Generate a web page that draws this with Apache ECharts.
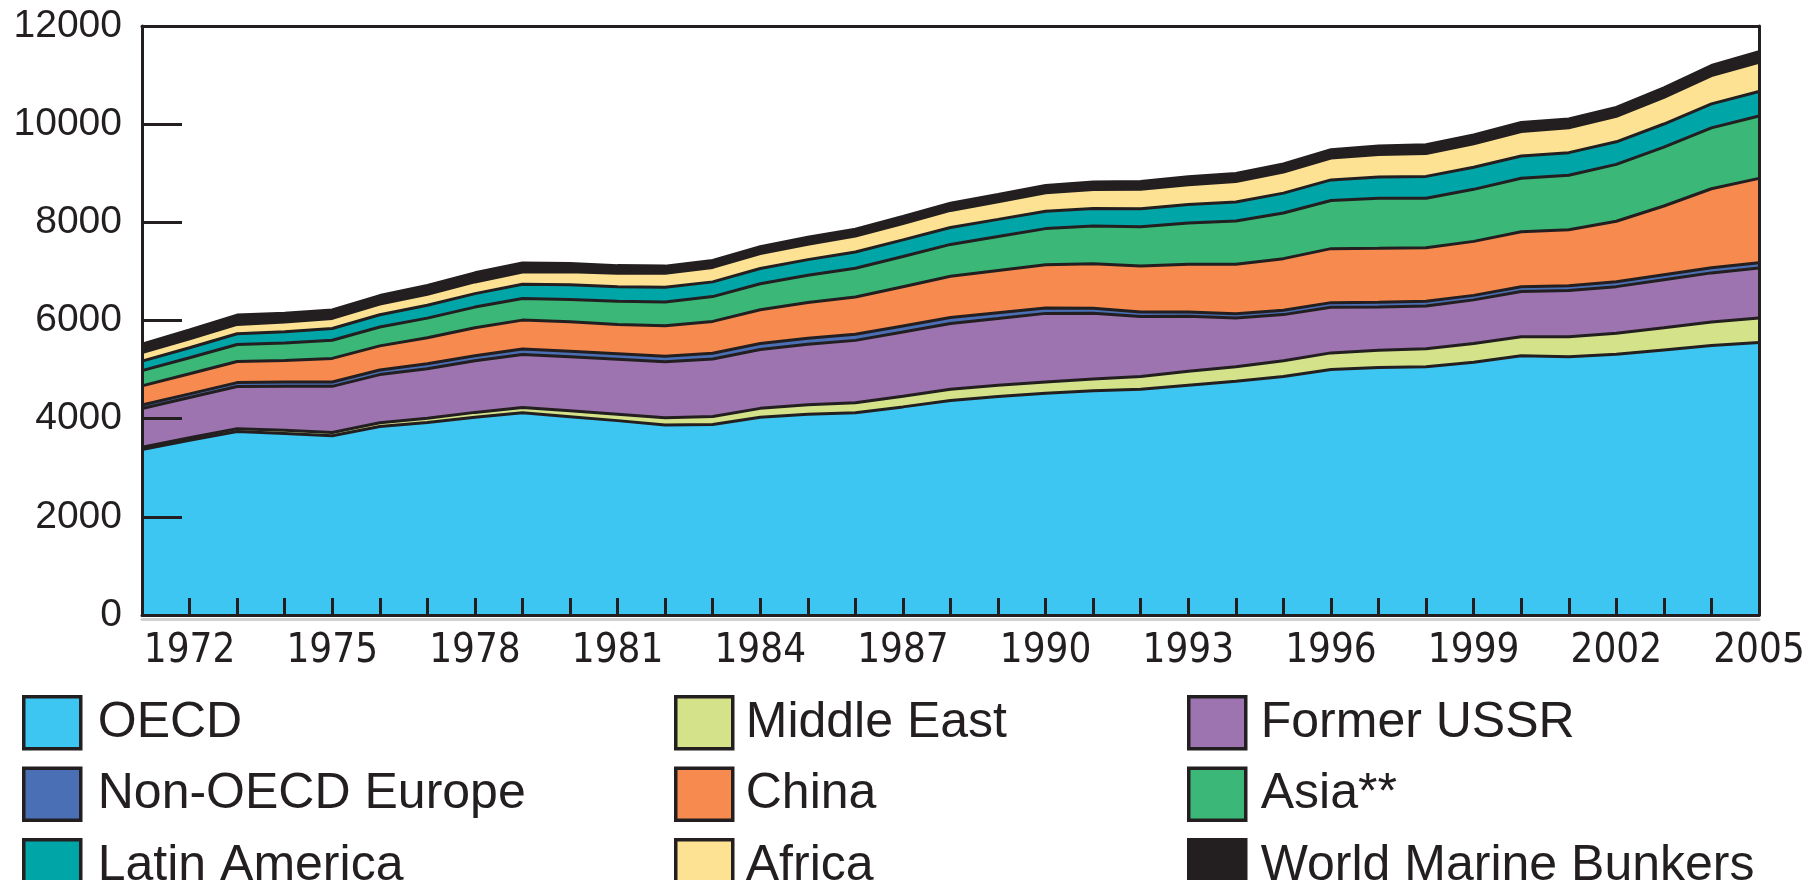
<!DOCTYPE html>
<html>
<head>
	<meta charset="utf-8">
	<title>TPES by region</title>
	<style type="text/css">
		*{ padding: 0; margin: 0; }
		body{ background: #fff; }
		#chart{ width: 1811px; height: 880px; }
	</style>
</head>
<body>
	<div id="chart"></div>

<script type="text/javascript" src="https://cdn.jsdelivr.net/npm/echarts@6/dist/echarts.min.js"></script>
<script type="text/javascript">
	// Mtoe, 1971 - 2005
	var years = ['1971','1972','1973','1974','1975','1976','1977','1978','1979','1980',
		'1981','1982','1983','1984','1985','1986','1987','1988','1989','1990',
		'1991','1992','1993','1994','1995','1996','1997','1998','1999','2000',
		'2001','2002','2003','2004','2005'];
	var yTicks = [0, 2000, 4000, 6000, 8000, 10000, 12000];

	var oecd = [3373,3560,3740,3700,3650,3840,3920,4030,4120,4040,
		3960,3870,3880,4030,4090,4120,4240,4370,4450,4520,
		4570,4600,4680,4760,4860,5000,5040,5060,5150,5280,
		5260,5310,5400,5490,5550];
	var middleEast = [45,50,55,62,68,78,88,98,108,120,
		132,148,165,180,195,205,215,228,230,225,
		240,260,285,300,320,340,355,365,380,390,
		410,430,450,480,500];
	var formerUSSR = [790,820,860,900,940,980,1010,1050,1080,1100,
		1120,1140,1170,1200,1230,1270,1310,1340,1360,1400,
		1340,1220,1120,990,940,930,880,870,890,920,
		940,950,980,1000,1020];
	var nonOecdEurope = [70,75,80,85,90,95,100,105,110,113,
		113,115,117,120,122,124,124,122,120,112,
		98,92,88,86,90,94,96,96,92,98,
		100,101,103,104,105];
	var china = [390,410,430,440,480,490,530,570,590,600,
		595,620,650,690,730,760,800,840,860,880,
		910,940,975,1010,1050,1100,1100,1090,1100,1120,
		1140,1230,1400,1610,1720];
	var asia = [310,325,345,355,370,385,400,420,440,455,
		470,485,505,530,555,585,615,650,690,735,
		765,800,840,880,930,980,1020,1010,1060,1090,
		1110,1160,1200,1240,1270];
	var latinAmerica = [195,205,220,230,240,250,262,275,290,300,
		298,300,300,310,318,330,338,345,350,355,
		360,365,375,390,405,420,435,445,450,455,
		460,460,470,490,500];
	var africa = [175,180,190,198,205,215,225,238,250,265,
		275,285,295,305,315,325,335,348,360,375,
		385,395,405,415,430,445,455,465,480,495,
		505,520,545,575,595];
	var bunkers = [170,185,190,180,170,175,180,185,185,170,
		155,145,140,140,140,142,142,145,148,150,
		155,160,160,162,165,170,175,178,180,185,
		180,180,190,205,215];

	// stacking order, bottom to top
	var layers = [
		{ name: 'OECD', data: oecd, color: '#3ec6f2' },
		{ name: 'Middle East', data: middleEast, color: '#d4e38a' },
		{ name: 'Former USSR', data: formerUSSR, color: '#9d74b0' },
		{ name: 'Non-OECD Europe', data: nonOecdEurope, color: '#4b6fb5' },
		{ name: 'China', data: china, color: '#f68a4f' },
		{ name: 'Asia**', data: asia, color: '#3bb878' },
		{ name: 'Latin America', data: latinAmerica, color: '#00a5a8' },
		{ name: 'Africa', data: africa, color: '#fde293' },
		{ name: 'World Marine Bunkers', data: bunkers, color: '#231f20' }
	];

	var ink = '#231f20';
	var font = "'Liberation Sans', Arial, sans-serif";

	function legendCol(left, names, pad) {
		return {
			orient: 'vertical',
			left: left,
			top: 690,
			height: 400,
			icon: 'rect',
			itemWidth: 57,
			itemHeight: 52,
			itemGap: 16,
			selectedMode: false,
			itemStyle: { borderColor: ink, borderWidth: 3.5 },
			textStyle: { fontFamily: font, fontSize: 50, lineHeight: 52, color: ink, padding: [0, 0, 0, pad] },
			data: names
		};
	}

	var charts = echarts.init(document.getElementById('chart'));
	var option = {
		animation: false,
		backgroundColor: '#fff',
		grid: { left: 142, right: 52, top: 26, bottom: 265 },
		legend: [
			legendCol(17, ['OECD', 'Non-OECD Europe', 'Latin America'], 12),
			legendCol(669, ['Middle East', 'China', 'Africa'], 8),
			legendCol(1182, ['Former USSR', 'Asia**', 'World Marine Bunkers'], 10)
		],
		xAxis: [{
			type: 'category',
			boundaryGap: false,
			data: years,
			axisLine: { show: true, lineStyle: { color: ink, width: 3, shadowColor: 'rgba(0,0,0,0.18)', shadowOffsetY: 4 } },
			axisTick: { show: true, inside: true, length: 17, interval: 0, lineStyle: { color: ink, width: 3 } },
			axisLabel: {
				interval: function (i) { return (i - 1) % 3 === 0; },
				margin: 17,
				fontFamily: "'Liberation Sans Narrow', 'DejaVu Sans Condensed', 'Liberation Sans', sans-serif",
				fontSize: 40,
				color: ink
			},
			splitLine: { show: false },
			z: 30
		}, {
			type: 'category',
			position: 'top',
			boundaryGap: false,
			data: years,
			axisLine: { show: true, onZero: false, lineStyle: { color: ink, width: 3 } },
			axisTick: { show: false },
			axisLabel: { show: false },
			z: 30
		}],
		yAxis: [{
			type: 'value',
			min: 0,
			max: 12000,
			interval: 2000,
			axisLine: { show: true, onZero: false, lineStyle: { color: ink, width: 3 } },
			axisTick: { show: true, inside: true, length: 40, lineStyle: { color: ink, width: 3 } },
			axisLabel: {
				margin: 20,
				fontFamily: font,
				fontSize: 39,
				color: ink,
				formatter: function (v) { return yTicks.indexOf(v) >= 0 ? String(v) : ''; }
			},
			splitLine: { show: false },
			z: 30
		}, {
			type: 'value',
			position: 'right',
			min: 0,
			max: 12000,
			interval: 2000,
			axisLine: { show: true, onZero: false, lineStyle: { color: ink, width: 3 } },
			axisTick: { show: false },
			axisLabel: { show: false },
			splitLine: { show: false },
			z: 30
		}],
		series: layers.map(function (l, i) {
			return {
				type: 'line',
				name: l.name,
				stack: 'total',
				data: l.data,
				symbol: 'none',
				z: 20 - i,
				color: l.color,
				itemStyle: { color: l.color },
				lineStyle: { color: ink, width: 3 },
				areaStyle: { color: l.color, opacity: 1 }
			};
		})
	};
	charts.setOption(option);
</script>
</body>
</html>
